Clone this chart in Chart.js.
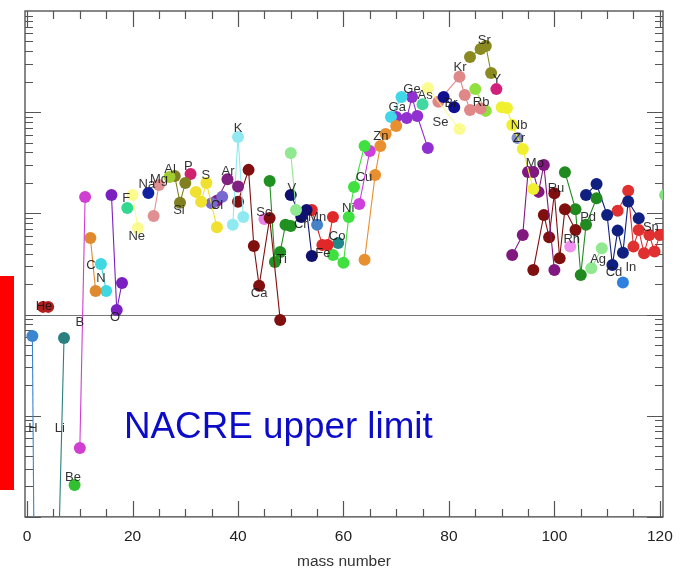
<!DOCTYPE html>
<html><head><meta charset="utf-8">
<script src="https://cdn.jsdelivr.net/npm/chart.js@4.4.0/dist/chart.umd.min.js"></script>
<style>
html,body{margin:0;padding:0;background:#fff;overflow:hidden}
#wrap{position:relative;width:691px;height:568px}
#c{position:absolute;left:0;top:0}
#bar{position:absolute;left:0;top:276px;width:14px;height:214px;background:#ff0000}
#note{position:absolute;left:124px;top:408px;font-size:36.8px;line-height:36px;font-family:"Liberation Sans",Arial,sans-serif;color:#0c0cc8;white-space:nowrap}
</style></head>
<body>
<div id="wrap">
<canvas id="c" width="691" height="568"></canvas>
<div id="bar"></div>
<div id="note">NACRE upper limit</div>
</div>
<script>
// ---- data: mass numbers (m*) and abundance ratios (r*) per element ----
const mH=[1,2];            const rH=[0.615,1e-7];
const mHe=[3,4];           const rHe=[1.19,1.19];
const mLi=[6,7];           const rLi=[0.005,0.587];
const mBe=[9];             const rBe=[0.0207];
const mB=[10,11];          const rB=[0.048,14.5];
const mC=[12,13];          const rC=[5.7,1.71];
const mN=[14,15];          const rN=[3.16,1.71];
const mO=[16,17,18];       const rO=[15.2,1.11,2.05];
const mF=[19];             const rF=[11.3];
const mNe=[20,21];         const rNe=[15.2,7.18];
const mNa=[23];            const rNa=[15.9];
const mMg=[24,25];         const rMg=[9.42,19.1];
const mAl=[27];            const rAl=[22.9];
const mSi=[28,29,30];      const rSi=[23.4,12.7,20.0];
const mP=[31];             const rP=[24.5];
const mS=[32,33,34,36];    const rS=[16.3,13.0,20.0,7.3];
const mCl=[35,37];         const rCl=[12.6,14.6];
const mAr=[36,38,40];      const rAr=[13.3,21.7,18.4];
const mK=[39,40,41];       const rK=[7.7,56.9,9.2];
const mCa=[40,42,43,44,46,48]; const rCa=[13.0,26.9,4.76,1.92,9.0,0.885];
const mSc=[45];            const rSc=[8.8];
const mTi=[46,47,48,49,50];const rTi=[20.9,3.31,4.16,7.7,7.5];
const mV=[50,51];          const rV=[39.5,10.8];
const mCr=[50,52,53,54];   const rCr=[15.2,9.2,10.8,3.79];
const mMn=[55];            const rMn=[7.7];
const mFe=[54,56,57,58];   const rFe=[10.8,4.87,4.87,9.2];
const mCo=[59];            const rCo=[5.1];
const mNi=[58,60,61,62,64];const rNi=[3.88,3.24,9.2,18.2,46.3];
const mCu=[63,65];         const rCu=[12.4,41.4];
const mZn=[64,66,67,68,70];const rZn=[3.47,23.9,46.3,60.9,73];
const mGa=[69,71];         const rGa=[89.7,141];
const mGe=[70,72,73,74,76];const rGe=[89.7,87.7,141,91.6,44.3];
const mAs=[75];            const rAs=[120];
const mSe=[76,82];         const rSe=[173,68.2];
const mBr=[79,81];         const rBr=[141,112];
const mKr=[78,82,83,84,86];const rKr=[127,224,148,105,109];
const mRb=[85,87];         const rRb=[169,103];
const mSr=[84,86,87,88];   const rSr=[351,422,451,244];
const mY=[89];             const rY=[169];
const mZr=[90,91,92,94,96];const rZr=[112,110,74.8,43.3,17.4];
const mNb=[93];            const rNb=[55.6];
const mMo=[92,94,95,96,97,98,100];  const rMo=[3.88,6.12,25.6,25.6,16.3,30.1,2.76];
const mRu=[96,98,99,100,101,102,104]; const rRu=[2.76,9.64,5.81,15.8,3.6,11.0,6.85];
const mRh=[103];           const rRh=[4.69];
const mPd=[102,104,105,106,108]; const rPd=[25.5,11.0,2.46,7.7,14.1];
const mAg=[107,109];       const rAg=[2.87,4.52];
const mCd=[106,108,110,111,112,113,114,116]; const rCd=[15.2,19.5,9.64,3.09,6.75,4.09,13.1,8.95];
const mIn=[113];           const rIn=[2.07];
const mSn=[112,114,115,116,117,118,119,120]; const rSn=[10.6,16.7,4.69,6.85,4.04,6.12,4.19,6.12];
const mSb=[121];           const rSb=[15.2];

// element symbol labels (annotation anchor in data units)
const labelNames=['H','He','Li','Be','B','C','N','O','F','Ne','Na','Mg','Al','Si','P','S','Cl','Ar','K','Ca','Sc','Ti','V','Cr','Mn','Fe','Co','Ni','Cu','Zn','Ga','Ge','As','Se','Br','Kr','Rb','Sr','Y','Nb','Zr','Mo','Ru','Rh','Pd','Ag','Cd','In','Sn'];
const labelMass=[1.1,3.2,6.2,8.7,10.0,12.1,14.0,16.7,18.8,20.8,22.7,25.0,27.1,28.8,30.6,33.9,36.0,38.1,40.0,44.0,44.9,48.3,50.2,51.9,55.0,56.1,58.8,60.9,63.9,67.1,70.2,73.0,75.5,78.4,80.4,82.1,86.1,86.7,89.1,93.3,93.3,96.3,100.3,103.3,106.4,108.3,111.3,114.5,118.3];
const labelRatio=[0.0757,1.19,0.0757,0.0248,0.845,3.09,2.3,0.946,13.9,5.98,19.1,21.4,26.9,10.8,29.4,23.9,12.1,26.2,69.8,1.63,10.3,3.47,17.8,7.86,9.2,4.06,5.85,11.3,22.4,58.2,112,166,145,80,123,274,126,517,213,74.8,55.6,31.5,17.8,5.58,9.02,3.47,2.58,2.95,7.18];

const xTicks=[0,20,40,60,80,100,120];
const refValue=1; // NACRE upper limit

const series=[
 ['H',mH,rH,'#3a86d0'],['He',mHe,rHe,'#b02020'],['Li',mLi,rLi,'#2a8080'],['Be',mBe,rBe,'#30c030'],
 ['B',mB,rB,'#d040d0'],['C',mC,rC,'#e08a30'],['N',mN,rN,'#40d8e0'],['O',mO,rO,'#7a20c0'],
 ['F',mF,rF,'#30d890'],['Ne',mNe,rNe,'rgba(250,250,110,0.75)'],['Na',mNa,rNa,'#1020a0'],['Mg',mMg,rMg,'#e09090'],
 ['Al',mAl,rAl,'#a0cc30'],['Si',mSi,rSi,'#808020'],['P',mP,rP,'#d02070'],['S',mS,rS,'#f0e030'],
 ['Cl',mCl,rCl,'#7868d0'],['Ar',mAr,rAr,'#802080'],['K',mK,rK,'#90e8f0'],['Ca',mCa,rCa,'#801010'],
 ['Sc',mSc,rSc,'#e880e8'],['Ti',mTi,rTi,'#209020'],['V',mV,rV,'#90e890'],['Cr',mCr,rCr,'#101070'],
 ['Mn',mMn,rMn,'#4682c8'],['Fe',mFe,rFe,'#e02828'],['Co',mCo,rCo,'#208888'],['Ni',mNi,rNi,'#40e040'],
 ['Cu',mCu,rCu,'#cc40dd'],['Zn',mZn,rZn,'#e89030'],['Ga',mGa,rGa,'#40d8e8'],['Ge',mGe,rGe,'#9030d0'],
 ['As',mAs,rAs,'#40d8a0'],['Se',mSe,rSe,'rgba(250,250,110,0.75)'],['Br',mBr,rBr,'#101090'],['Kr',mKr,rKr,'#e08888'],
 ['Rb',mRb,rRb,'#90e040'],['Sr',mSr,rSr,'#8a8a20'],['Y',mY,rY,'#d0207a'],['Zr',mZr,rZr,'#f0f030'],
 ['Nb',mNb,rNb,'#8090c8'],['Mo',mMo,rMo,'#801880'],['Ru',mRu,rRu,'#801010'],['Rh',mRh,rRh,'#f090f0'],
 ['Pd',mPd,rPd,'#208a20'],['Ag',mAg,rAg,'#90e890'],['Cd',mCd,rCd,'#102080'],['In',mIn,rIn,'#3080e0'],
 ['Sn',mSn,rSn,'#e03030'],['Sb',mSb,rSb,'#80e080']
];

const datasets=series.map(([name,m,r,col])=>({
  label:name,
  data:m.map((v,i)=>({x:v,y:r[i]})),
  showLine:true,
  borderColor:col,
  borderWidth:1.1,
  backgroundColor:col,
  pointBackgroundColor:col,
  pointBorderWidth:0,
  pointRadius:6,
  pointHoverRadius:6,
  tension:0
}));

const FONT='"Liberation Sans", Arial, Helvetica, sans-serif';

const framePlugin={
  id:'frame',
  beforeDatasetsDraw(chart){
    const {ctx,chartArea:a,scales:{x,y}}=chart;
    ctx.save();
    const yr=Math.round(y.getPixelForValue(refValue))+0.5;
    ctx.strokeStyle='#777';ctx.lineWidth=1;
    ctx.beginPath();ctx.moveTo(a.left,yr);ctx.lineTo(a.right,yr);ctx.stroke();
    ctx.strokeStyle='#555';ctx.lineWidth=1.4;
    ctx.strokeRect(a.left,a.top,a.right-a.left,a.bottom-a.top);
    ctx.lineWidth=1.2;
    ctx.beginPath();
    for(let v=0;v<=120;v+=5){
      const px=Math.round(x.getPixelForValue(v))+0.5;
      const L=(v%20===0)?16:8;
      ctx.moveTo(px,a.bottom);ctx.lineTo(px,a.bottom-L);
      ctx.moveTo(px,a.top);ctx.lineTo(px,a.top+L);
    }
    for(let k=-2;k<=2;k++){
      for(let j=1;j<=9;j++){
        const val=j*Math.pow(10,k);
        const py=Math.round(y.getPixelForValue(val))+0.5;
        const L=(j===1)?16:8;
        ctx.moveTo(a.left,py);ctx.lineTo(a.left+L,py);
        ctx.moveTo(a.right,py);ctx.lineTo(a.right-L,py);
      }
    }
    ctx.stroke();
    ctx.restore();
  },
  afterDatasetsDraw(chart){
    const {ctx,chartArea:a,scales:{x,y}}=chart;
    ctx.save();
    ctx.beginPath();ctx.rect(a.left,a.top,a.right-a.left,a.bottom-a.top);ctx.clip();
    ctx.font='13px '+FONT;
    ctx.fillStyle='rgba(20,20,20,0.88)';
    ctx.textAlign='center';ctx.textBaseline='middle';
    labelNames.forEach((n,i)=>{
      ctx.fillText(n,x.getPixelForValue(labelMass[i]),y.getPixelForValue(labelRatio[i]));
    });
    ctx.restore();
  }
};

new Chart(document.getElementById('c').getContext('2d'),{
  type:'scatter',
  data:{datasets},
  options:{
    responsive:false,animation:false,
    layout:{padding:{left:25,right:28,top:11,bottom:0}},
    plugins:{legend:{display:false},tooltip:{enabled:false}},
    scales:{
      x:{type:'linear',min:-0.4,max:120.6,
         grid:{display:false,drawTicks:false},border:{display:false},
         afterBuildTicks:s=>{s.ticks=xTicks.map(v=>({value:v}));},
         ticks:{color:'#222',font:{family:FONT,size:15.5,lineHeight:1},padding:12,maxRotation:0,autoSkip:false},
         title:{display:true,text:'mass number',color:'#333',font:{family:FONT,size:15.5,lineHeight:0.75},padding:0}},
      y:{type:'logarithmic',min:0.01,max:1000,display:false}
    }
  },
  plugins:[framePlugin]
});
</script>
</body></html>
